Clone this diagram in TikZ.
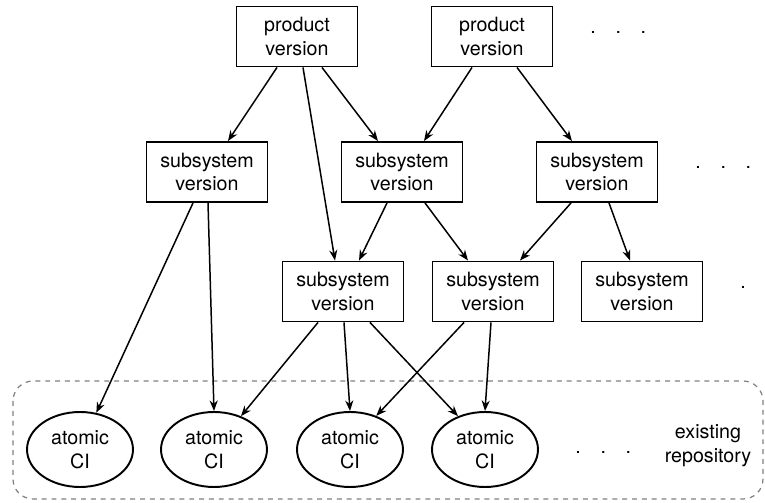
\documentclass[tikz,border=0pt]{standalone}
\usepackage{fontspec}
\setmainfont{TeX Gyre Heros}
\usetikzlibrary{arrows.meta,calc,shapes.geometric}

\begin{document}
\begin{tikzpicture}[x=0.02cm,y=-0.02cm,
  font=\fontsize{11.2}{13.6}\selectfont,
  version/.style={draw, line width=1.1pt, align=center, inner sep=0pt,
    minimum width=2.42cm, minimum height=1.2cm},
  atomic/.style={ellipse, draw, line width=1.1pt, align=center, inner sep=0pt,
    minimum width=2.12cm, minimum height=1.5cm},
  arr/.style={line width=0.85pt, -{Stealth[length=6pt,width=4.6pt]}},
  etc/.style={anchor=base west, inner sep=0pt}]

\useasboundingbox (0,0) rectangle (765,503);

%repository:
\draw[gray, line width=0.7pt, dash pattern=on 2.8pt off 2.8pt, rounded corners=0.4cm]
  (13,381) rectangle (763,499);

%versions:
\node[version] (p1) at (297,36.5) {product\\version};
\node[version] (p2) at (492,36.5) {product\\version};
\node[etc] (pdots) at (590,33.5) {.\quad.\quad.};

\node[version] (s1) at (207,172) {subsystem\\version};
\node[version] (s2) at (402,172) {subsystem\\version};
\node[version] (s3) at (597,172) {subsystem\\version};
\node[etc] (sdots) at (695,168.5) {.\quad.\quad.};

\node[version] (t1) at (343,291.5) {subsystem\\version};
\node[version] (t2) at (493,291.5) {subsystem\\version};
\node[version] (t3) at (642,291.5) {subsystem\\version};
\node[etc] (tdots) at (740,288.5) {.\quad.\quad.};

%atomic CIs:
\node[atomic] (a1) at (80,449.5) {atomic\\CI};
\node[atomic] (a2) at (214,449.5) {atomic\\CI};
\node[atomic] (a3) at (350,449.5) {atomic\\CI};
\node[atomic] (a4) at (485,449.5) {atomic\\CI};
\node[etc] (adots) at (575,453.5) {.\quad.\quad.};
\node[align=center, inner sep=0pt] (repo) at (708,446) {existing\\repository};

%product -> subsystem:
\draw[arr] ($(p1.south)+(-20,0)$) -- ($(s1.north)+(21,0)$);
\draw[arr] ($(p1.south)+(6,0)$) -- ($(t1.north)+(-8,0)$);
\draw[arr] ($(p1.south)+(25,0)$) -- ($(s2.north)+(-24,0)$);
\draw[arr] ($(p2.south)+(-20,0)$) -- ($(s2.north)+(22,0)$);
\draw[arr] ($(p2.south)+(25,0)$) -- ($(s3.north)+(-25,0)$);

%subsystem -> subsystem:
\draw[arr] ($(s2.south)+(-15,0)$) -- ($(t1.north)+(16,0)$);
\draw[arr] ($(s2.south)+(23,0)$) -- ($(t2.north)+(-25,0)$);
\draw[arr] ($(s3.south)+(-26,0)$) -- ($(t2.north)+(27,0)$);
\draw[arr] ($(s3.south)+(12,0)$) -- ($(t3.north)+(-12,0)$);

%subsystem -> atomic:
\draw[arr] ($(s1.south)+(-14,0)$) -- (a1.66);
\draw[arr] ($(s1.south)+(1,0)$) -- (a2.north);
\draw[arr] ($(t1.south)+(-25,0)$) -- (a2.51);
\draw[arr] ($(t1.south)+(1,0)$) -- (a3.north);
\draw[arr] ($(t1.south)+(27,0)$) -- (a4.129);
\draw[arr] ($(t2.south)+(-29,0)$) -- (a3.52);
\draw[arr] ($(t2.south)+(-2,0)$) -- (a4.north);

\end{tikzpicture}
\end{document}
